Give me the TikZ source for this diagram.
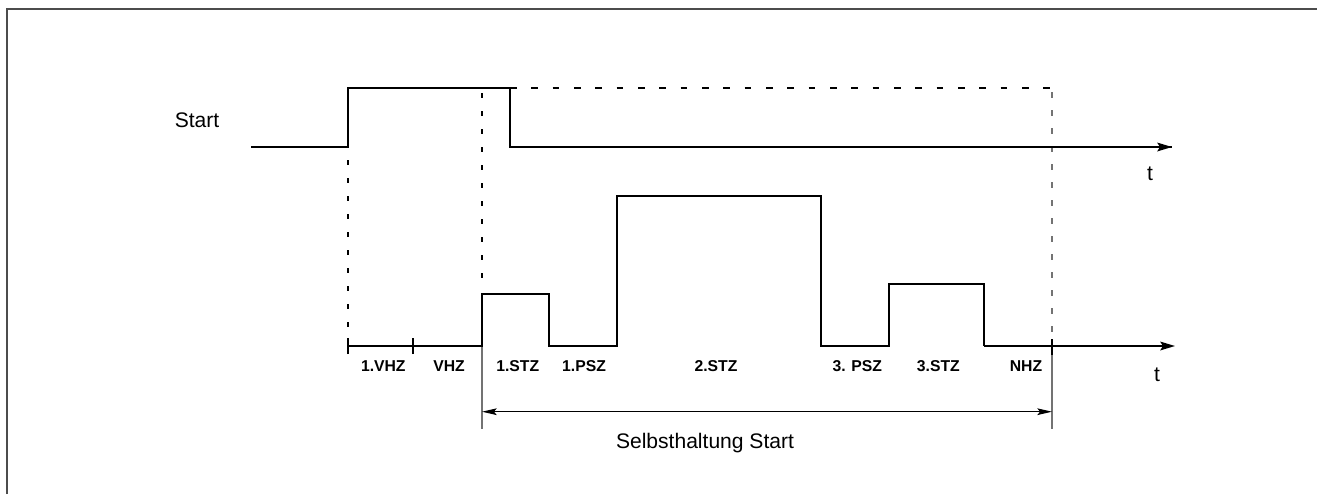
\documentclass[tikz,border=0pt]{standalone}
\usepackage{fontspec}
\setmainfont{Liberation Sans}
\usetikzlibrary{arrows.meta}
\begin{document}
\begin{tikzpicture}[x=0.75pt,y=-0.75pt,
  frame/.style={draw=black!70, line width=1.3pt},
  sig/.style={line width=1.5pt, line join=miter, line cap=butt},
  guide/.style={line width=0.8pt, dash pattern=on 4pt off 9.5pt},
  guideh/.style={line width=0.8pt, dash pattern=on 5pt off 11pt},
  guidegray/.style={line width=1pt, draw=black!55, dash pattern=on 4.5pt off 9pt},
  ext/.style={line width=0.8pt, draw=black!55},
  tick/.style={line width=1.4pt},
  axisarrow/.style={-{Stealth[length=11pt,width=6.5pt,inset=2pt]}},
  dimarrow/.style={line width=0.8pt, {Stealth[length=11pt,width=5pt,inset=2pt]}-{Stealth[length=11pt,width=5pt,inset=2pt]}},
  big/.style={font=\fontsize{15.8}{18}\selectfont, anchor=base, inner sep=0pt},
  lab/.style={font=\bfseries\fontsize{11.8}{13}\selectfont, anchor=base, inner sep=0pt}]
\useasboundingbox (0,0) rectangle (1317,494);
% frame
\draw[frame] (7.3,494) -- (7.3,9) -- (1317,9);

% key coordinates
\coordinate (s0) at (251,147);
\coordinate (s1) at (348,147);
\coordinate (s2) at (348,88);
\coordinate (s3) at (510,88);
\coordinate (s4) at (510,147);
\coordinate (sEnd) at (1172,147);
\coordinate (dTop) at (1052,88);
\coordinate (dTop2) at (1052,92);
\coordinate (dBase) at (1052,346);
\coordinate (dBot) at (1052,429);
\coordinate (g1top) at (348,160);
\coordinate (g1bot) at (348,338);
\coordinate (g2top) at (482,93);
\coordinate (g2bot) at (482,288);
\coordinate (eBase) at (482,346);
\coordinate (eBot) at (482,429);
\coordinate (b0) at (348,346);
\coordinate (b1) at (482,346);
\coordinate (b2) at (482,294);
\coordinate (b3) at (549,294);
\coordinate (b4) at (549,346);
\coordinate (b5) at (617,346);
\coordinate (b6) at (617,196);
\coordinate (b7) at (821,196);
\coordinate (b8) at (821,346);
\coordinate (b9) at (889,346);
\coordinate (b10) at (889,284);
\coordinate (b11) at (984,284);
\coordinate (b12) at (984,346);
\coordinate (bEnd) at (1175,346);
\coordinate (m1) at (413,346);
\coordinate (dimL) at (482,411.7);
\coordinate (dimR) at (1052,411.7);

% guides
\draw[guide] (g1top) -- (g1bot);
\draw[guide] (g2top) -- (g2bot);
\draw[guideh] (s3) -- (dTop);
\draw[guidegray] (dTop2) -- (dBase);
\draw[ext] (eBase) -- (eBot);
\draw[ext] (dBase) -- (dBot);

% start signal
\draw[sig] (s0) -- (s1) -- (s2) -- (s3) -- (s4) -- (sEnd);
\draw[sig, axisarrow] (s4) -- (sEnd);

% lower signal
\draw[sig] (b0) -- (b1) -- (b2) -- (b3) -- (b4) -- (b5) -- (b6) -- (b7) -- (b8) -- (b9) -- (b10) -- (b11) -- (b12);
\draw[sig, axisarrow] (b12) -- (bEnd);

% ticks
\draw[tick] ([yshift=-6pt]b0) -- ([yshift=6pt]b0);
\draw[tick] ([yshift=-6pt]m1) -- ([yshift=6pt]m1);
\draw[tick] ([yshift=-6.5pt]dBase) -- ([yshift=5pt]dBase);

% dimension
\draw[dimarrow] (dimL) -- (dimR);

% texts
\node[big] (start) at (197,127.7) {Start};
\node[big] (t1) at (1150,180) {t};
\node[big] (t2) at (1157,381) {t};
\node[big] (selbst) at (705,448) {Selbsthaltung Start};
\node[lab] (l1) at (383.3,371.7) {1.VHZ};
\node[lab] (l2) at (449,371.7) {VHZ};
\node[lab] (l3) at (517.7,371.7) {1.STZ};
\node[lab] (l4) at (584,371.7) {1.PSZ};
\node[lab] (l5) at (716,371.7) {2.STZ};
\node[lab] (l6) at (857.3,371.7) {3. PSZ};
\node[lab] (l7) at (938.3,371.7) {3.STZ};
\node[lab] (l8) at (1026,371.7) {NHZ};
\end{tikzpicture}
\end{document}
